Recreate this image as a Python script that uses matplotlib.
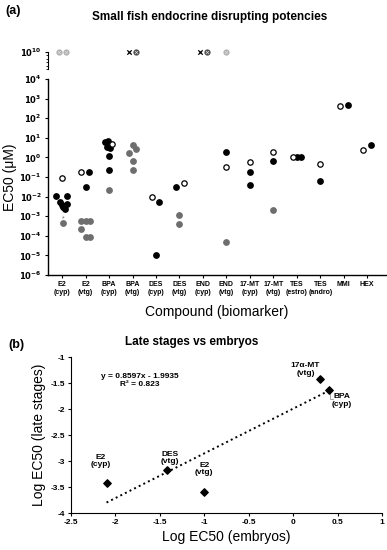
import numpy as np
import matplotlib
matplotlib.use('Agg')
import matplotlib.pyplot as plt
from matplotlib.ticker import FixedLocator, NullFormatter

plt.rcParams['font.family'] = ['Liberation Sans', 'DejaVu Sans']

# ---------------- panel (a) data ----------------
categories = ['E2\n(cyp)', 'E2\n(vtg)', 'BPA\n(cyp)', 'BPA\n(vtg)', 'DES\n(cyp)', 'DES\n(vtg)',
              'END\n(cyp)', 'END\n(vtg)', '17-MT\n(cyp)', '17-MT\n(vtg)', 'TES\n(estro)',
              'TES\n(andro)', 'MMI', 'HEX']

# EC50 (uM) per compound, by marker type: (category index, value)
black_cat = [0, 0, 0, 0, 0, 0, 0, 1, 1, 2, 2, 2, 2, 2, 2, 4, 4, 5, 7, 8, 8, 9, 10, 10, 11, 12, 13]
black_val = [0.011, 0.0055, 0.0037, 0.0028, 0.0022, 0.0041, 0.011, 0.17, 0.03,
             6.0, 7.2, 3.4, 3.0, 1.2, 0.22, 0.0055, 1e-5, 0.03, 1.95, 0.17, 0.039,
             0.66, 1.0, 1.0, 0.063, 490, 4.2]
black_off = [-0.24, -0.1, 0.0, 0.06, 0.13, 0.2, 0.2, 0.15, 0.02,
             -0.18, -0.03, -0.1, 0.06, 0.0, 0.0, 0.14, 0.0, -0.14, 0.0, 0.0, 0.0,
             0.0, 0.0, 0.17, 0.0, 0.17, 0.16]

gray_cat = [0, 1, 1, 1, 1, 1, 1, 2, 3, 3, 3, 3, 3, 5, 5, 7, 9]
gray_val = [0.00044, 0.00059, 0.00059, 0.00059, 0.00021, 8.3e-5, 8.3e-5, 0.023,
            4.5, 2.6, 1.7, 0.63, 0.24, 0.0011, 0.00039, 4.8e-5, 0.002]
gray_off = [0.03, -0.18, 0.0, 0.18, -0.18, 0.0, 0.18, 0.0,
            0.0, 0.17, -0.17, 0.0, 0.0, 0.0, 0.0, 0.0, 0.0]

open_cat = [0, 1, 2, 4, 5, 7, 8, 9, 10, 11, 12, 13]
open_val = [0.093, 0.19, 5.0, 0.01, 0.051, 0.34, 0.6, 1.95, 1.1, 0.45, 420, 2.3]
open_off = [0.0, -0.18, 0.14, -0.17, 0.2, 0.0, 0.0, 0.0, -0.17, 0.0, -0.14, -0.16]

# inactive (plotted on the 10^10 break)
inact_cat = [0, 0, 3, 3, 6, 6, 7]
inact_kind = ['otimes_l', 'otimes_l', 'x', 'otimes_d', 'x', 'otimes_d', 'otimes_l']
inact_off = [-0.14, 0.17, -0.14, 0.17, -0.14, 0.17, 0.0]
inact_val = 1e10

# ---------------- panel (b) data ----------------
emb_x = [-2.1, -1.42, -1.0, 0.3, 0.4]
late_y = [-3.43, -3.18, -3.59, -1.43, -1.63]
pt_labels = ['E2\n(cyp)', 'DES\n(vtg)', 'E2\n(vtg)', '17α-MT\n(vtg)', 'BPA\n(cyp)']
slope, intercept, r2 = 0.8597, -1.9935, 0.823

W, H = 387, 550
fig = plt.figure(figsize=(W / 100, H / 100), dpi=100)


def fbox(l, t, r, b):
    return [l / W, 1 - b / H, (r - l) / W, (b - t) / H]


def pow_lab(v):
    e = int(round(np.log10(v)))
    return r'$\mathbf{10^{%d}}$' % e


# main axis of (a)
ax = fig.add_axes(fbox(48, 79, 386, 275))
ax.set_yscale('log')
ax.set_ylim(1e-6, 1e4)
ax.set_xlim(-0.6, 13.8)
yt = [10.0 ** k for k in range(-6, 5)]
ax.yaxis.set_major_locator(FixedLocator(yt))
ax.set_yticklabels([pow_lab(v) for v in yt], fontsize=6)
ax.yaxis.set_minor_locator(FixedLocator([]))
ax.set_xticks(range(len(categories)))
ax.set_xticklabels(categories, fontsize=5, fontweight='bold', linespacing=1.2)
ax.tick_params(axis='both', length=2.5, width=0.8, pad=2)
for s in ['top', 'right']:
    ax.spines[s].set_visible(False)
for s in ['left', 'bottom']:
    ax.spines[s].set_linewidth(1.0)

bx = np.array(black_cat) + np.array(black_off)
ax.scatter(bx, black_val, s=15, c='black', zorder=3, clip_on=False)
gx = np.array(gray_cat) + np.array(gray_off)
ax.scatter(gx, gray_val, s=15, c='#6e6e6e', zorder=3, clip_on=False)
ox = np.array(open_cat) + np.array(open_off)
ax.scatter(ox, open_val, s=15, facecolors='white', edgecolors='black', linewidths=0.9,
           zorder=4, clip_on=False)
ax.text(0.03, 0.0007, '*', fontsize=5, color='#6e6e6e', ha='center', va='center')

ax.set_ylabel('EC50 (μM)', fontsize=10, labelpad=2)
ax.set_xlabel('Compound (biomarker)', fontsize=10, labelpad=6)

# broken top segment of (a)
axt = fig.add_axes(fbox(48, 52, 386, 69))
axt.set_yscale('log')
axt.set_ylim(1e7, 1e10)
axt.set_xlim(ax.get_xlim())
axt.yaxis.set_major_locator(FixedLocator([1e10]))
axt.set_yticklabels([pow_lab(1e10)], fontsize=6)
axt.yaxis.set_minor_locator(FixedLocator([10 ** 7, 10 ** 7.6, 10 ** 8.2, 10 ** 8.8, 10 ** 9.4]))
axt.yaxis.set_minor_formatter(NullFormatter())
axt.tick_params(axis='y', which='major', length=2.5, width=0.8, pad=2)
axt.tick_params(axis='y', which='minor', length=1.5, width=0.6)
axt.set_xticks([])
for s in ['top', 'right', 'bottom']:
    axt.spines[s].set_visible(False)
axt.patch.set_alpha(0)
for c, k, o in zip(inact_cat, inact_kind, inact_off):
    xx = c + o
    if k == 'x':
        axt.scatter([xx], [inact_val], marker='x', s=10, c='black', linewidths=0.9,
                    clip_on=False, zorder=3)
    else:
        fc = '#b0b0b0' if k == 'otimes_l' else '#4a4a4a'
        axt.scatter([xx], [inact_val], marker='o', s=12, c=fc, clip_on=False, zorder=3)
        axt.scatter([xx], [inact_val], marker='x', s=5, c='#dcdcdc', linewidths=0.5,
                    clip_on=False, zorder=4)

fig.text(5 / W, 1 - 11 / H, '(a)', fontsize=9, fontweight='bold', va='center')
fig.text(210 / W, 1 - 17 / H, 'Small fish endocrine disrupting potencies', fontsize=8.5,
         fontweight='bold', ha='center', va='center')

# ---------------- panel (b) ----------------
bx2 = fig.add_axes(fbox(71, 357, 382, 513))
bx2.set_xlim(-2.5, 1)
bx2.set_ylim(-4, -1)
xt = np.arange(-2.5, 1.01, 0.5)
yt2 = np.arange(-4, -0.99, 0.5)
bx2.set_xticks(xt)
bx2.set_xticklabels(['%g' % v for v in xt], fontsize=6, fontweight='bold')
bx2.set_yticks(yt2)
bx2.set_yticklabels(['%g' % v for v in yt2], fontsize=6, fontweight='bold')
bx2.tick_params(axis='both', length=2.5, width=0.8, pad=2)
for s in ['top', 'right']:
    bx2.spines[s].set_visible(False)

xl = np.array([min(emb_x), max(emb_x)])
bx2.plot(xl, slope * xl + intercept, linestyle=':', color='black', linewidth=1.4)
bx2.scatter(emb_x, late_y, marker='D', s=14, c='black', zorder=3)

lab_pos = [(-2.17, -3.0), (-1.39, -2.94), (-1.0, -3.15), (0.14, -1.24), (0.55, -1.84)]
for (lx, ly), t in zip(lab_pos, pt_labels):
    bx2.text(lx, ly, t, fontsize=6, fontweight='bold', ha='center', va='center',
             linespacing=1.1)
bx2.plot([0.42, 0.42, 0.45], [-1.68, -1.8, -1.8], color='#999999', linewidth=0.6)

bx2.text(-1.73, -1.45, 'y = %.4fx - %.4f\nR² = %.3f' % (slope, -intercept, r2),
         fontsize=6, fontweight='bold', ha='center', va='center', linespacing=1.2)

bx2.set_xlabel('Log EC50 (embryos)', fontsize=10, labelpad=3)
bx2.set_ylabel('Log EC50 (late stages)', fontsize=10, labelpad=3)

fig.text(8 / W, 1 - 345 / H, '(b)', fontsize=9, fontweight='bold', va='center')
fig.text(192 / W, 1 - 342 / H, 'Late stages vs embryos', fontsize=8.5,
         fontweight='bold', ha='center', va='center')

fig.savefig('out.png', dpi=100)
